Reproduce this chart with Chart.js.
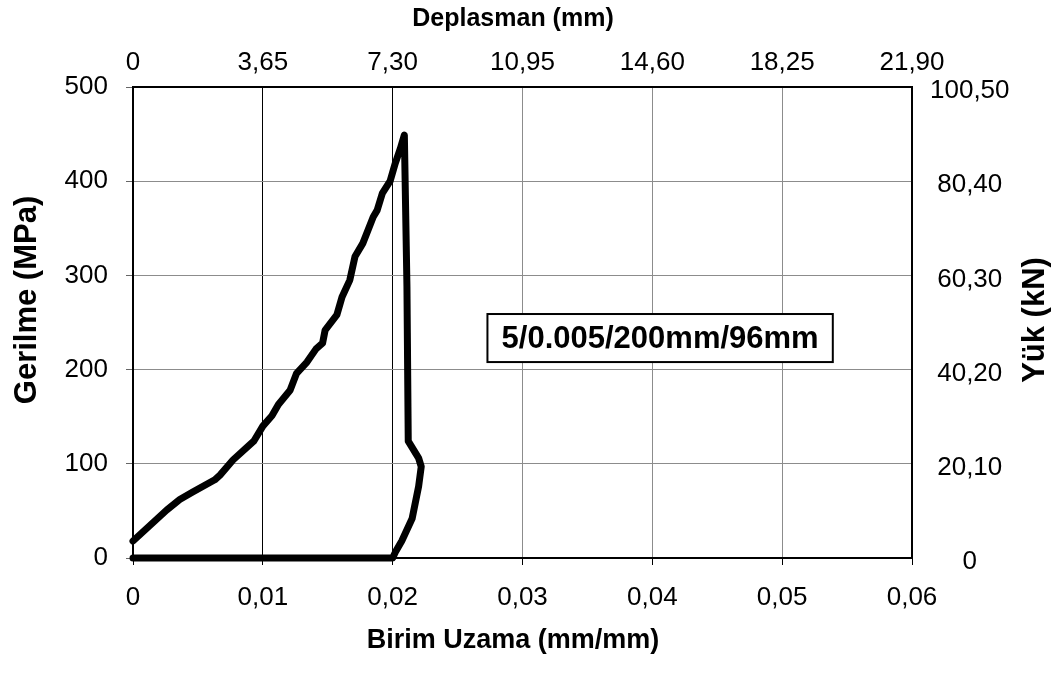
<!DOCTYPE html>
<html>
<head>
<meta charset="utf-8">
<title>Gerilme - Birim Uzama</title>
<script src="https://cdn.jsdelivr.net/npm/chart.js@4.4.1/dist/chart.umd.min.js"></script>
<style>
  html, body { margin: 0; padding: 0; background: #fff; }
  #wrap { width: 1060px; height: 675px; }
</style>
</head>
<body>
<div id="wrap"><canvas id="c" width="1060" height="675"></canvas></div>
<script>
// Stress–strain curve of the specimen (strain in mm/mm, stress in MPa)
const strain = [
  0, 0.0026, 0.0036, 0.0046, 0.0063, 0.0067, 0.0077, 0.0093, 0.0100, 0.0107,
  0.0112, 0.0121, 0.0126, 0.0134, 0.0141, 0.0146, 0.0148, 0.0157, 0.0161, 0.0167,
  0.0171, 0.0177, 0.0185, 0.0188, 0.0192, 0.0198, 0.0202, 0.0206, 0.0209,
  0.0211, 0.0212, 0.0216, 0.0220, 0.0222, 0.0220, 0.0215, 0.0207, 0.0202, 0.0200, 0
];
const stress = [
  18, 51, 62, 70, 83, 88, 104, 124, 140, 151,
  163, 178, 196, 208, 222, 228, 242, 258, 277, 295,
  320, 334, 362, 369, 387, 400, 419, 435, 449,
  288, 124, 115, 106, 97, 76, 42, 18, 6, 0, 0
];

// Axis ranges and tick labels
const strainTicks = [0, 0.01, 0.02, 0.03, 0.04, 0.05, 0.06];
const stressTicks = [0, 100, 200, 300, 400, 500];
const dispTicks = [0, 3.65, 7.30, 10.95, 14.60, 18.25, 21.90];   // Deplasman (mm)
const loadTicks = [0, 20.10, 40.20, 60.30, 80.40, 100.50];       // Yük (kN)

const titles = {
  top: 'Deplasman (mm)',
  bottom: 'Birim Uzama (mm/mm)',
  left: 'Gerilme (MPa)',
  right: 'Yük (kN)'
};
const specimenLabel = '5/0.005/200mm/96mm';

const FONT = "'Liberation Sans', Arial, Helvetica, sans-serif";
const comma = (v, d) => v === 0 ? '0' : v.toFixed(d).replace('.', ',');
const setTicks = arr => scale => { scale.ticks = arr.map(v => ({ value: v })); };

// Axis titles and the specimen label box
const decorations = {
  id: 'decorations',
  afterDatasetsDraw(chart) {
    const { ctx, scales } = chart;
    const x = scales.x, y = scales.y;
    ctx.save();
    // label box
    const bx0 = x.getPixelForValue(0.0273), bx1 = x.getPixelForValue(0.0539);
    const by0 = y.getPixelForValue(259), by1 = y.getPixelForValue(208);
    ctx.fillStyle = '#fff';
    ctx.fillRect(bx0, by0, bx1 - bx0, by1 - by0);
    ctx.strokeStyle = '#000';
    ctx.lineWidth = 2;
    ctx.strokeRect(bx0, by0, bx1 - bx0, by1 - by0);
    ctx.fillStyle = '#000';
    ctx.textAlign = 'center';
    ctx.textBaseline = 'middle';
    ctx.font = 'bold 31px ' + FONT;
    ctx.fillText(specimenLabel, (bx0 + bx1) / 2, (by0 + by1) / 2 + 1);

    // axis titles
    ctx.font = 'bold 25px ' + FONT;
    ctx.fillText(titles.top, 513, 19);
    ctx.font = 'bold 27px ' + FONT;
    ctx.fillText(titles.bottom, 513, 641);
    ctx.font = 'bold 31px ' + FONT;
    ctx.save();
    ctx.translate(27, 300);
    ctx.rotate(-Math.PI / 2);
    ctx.fillText(titles.left, 0, 0);
    ctx.restore();
    ctx.save();
    ctx.translate(1035, 320);
    ctx.rotate(-Math.PI / 2);
    ctx.fillText(titles.right, 0, 0);
    ctx.restore();
    ctx.restore();
  }
};

const tickFont = { family: FONT, size: 26 };

new Chart(document.getElementById('c'), {
  type: 'scatter',
  data: {
    datasets: [{
      data: strain.map((s, i) => ({ x: s, y: stress[i] })),
      showLine: true,
      borderColor: '#000',
      borderWidth: 7,
      borderJoinStyle: 'round',
      borderCapStyle: 'round',
      pointRadius: 0,
      pointHoverRadius: 0,
      tension: 0,
      fill: false,
      clip: false
    }]
  },
  options: {
    responsive: false,
    animation: false,
    events: [],
    layout: { padding: 0 },
    plugins: { legend: { display: false }, tooltip: { enabled: false } },
    scales: {
      x: {
        type: 'linear', position: 'bottom',
        min: 0, max: 0.06,
        afterBuildTicks: setTicks(strainTicks),
        afterFit: s => { s.height = 117; },
        grid: {
          color: c => (c.tick && (Math.abs(c.tick.value - 0.01) < 1e-9 || Math.abs(c.tick.value - 0.02) < 1e-9)) ? '#000' : '#8c8c8c',
          lineWidth: 1,
          tickLength: 7,
          tickColor: '#000'
        },
        border: { color: '#000', width: 2 },
        ticks: { font: tickFont, color: '#000', padding: 17, maxRotation: 0, callback: v => comma(v, 2) }
      },
      x2: {
        type: 'linear', position: 'top',
        min: 0, max: 21.9,
        afterBuildTicks: setTicks(dispTicks),
        afterFit: s => { s.height = 87; },
        grid: { drawOnChartArea: false, drawTicks: false },
        border: { color: '#000', width: 2 },
        ticks: { font: tickFont, color: '#000', padding: 9, maxRotation: 0, callback: v => comma(v, 2) }
      },
      y: {
        type: 'linear', position: 'left',
        min: 0, max: 500,
        afterBuildTicks: setTicks(stressTicks),
        afterFit: s => { s.width = 133; },
        grid: { color: '#8c8c8c', lineWidth: 1, tickLength: 7, tickColor: '#666' },
        border: { color: '#000', width: 2 },
        ticks: { font: tickFont, color: '#000', padding: 18, callback: v => String(v) }
      },
      y2: {
        type: 'linear', position: 'right',
        min: 0, max: 100.5,
        afterBuildTicks: setTicks(loadTicks),
        afterFit: s => { s.width = 148; },
        grid: { drawOnChartArea: false, drawTicks: false },
        border: { color: '#000', width: 2 },
        ticks: { font: tickFont, color: '#000', padding: 18, crossAlign: 'center', labelOffset: 4, callback: v => comma(v, 2) }
      }
    }
  },
  plugins: [decorations]
});
</script>
</body>
</html>
